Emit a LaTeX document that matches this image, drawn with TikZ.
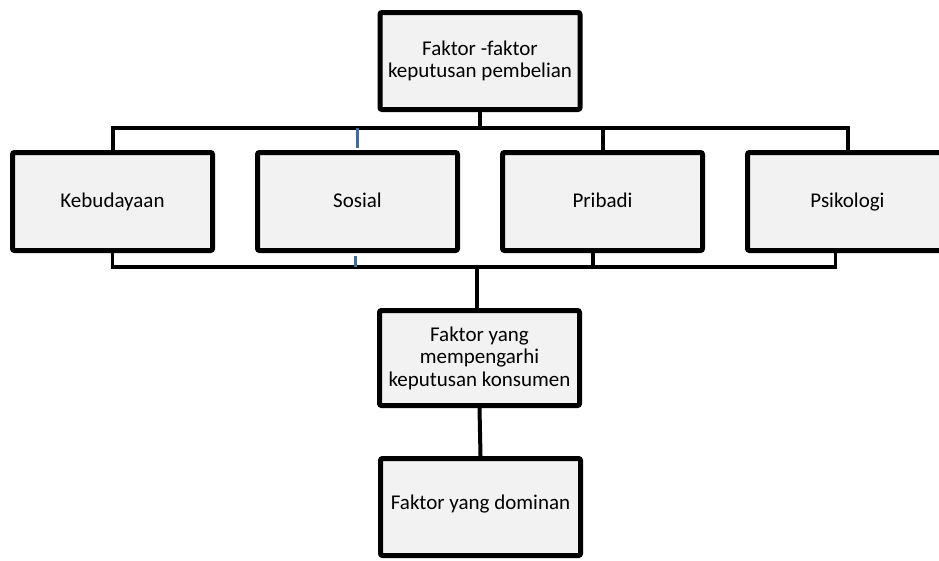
\documentclass[tikz,border=0pt]{standalone}
\usepackage{fontspec}
\setmainfont{Carlito}
\usetikzlibrary{positioning}
\definecolor{boxgray}{HTML}{F2F2F2}
\definecolor{linkblue}{HTML}{41699A}

\begin{document}
\begin{tikzpicture}[x=1pt, y=-1pt,
		box/.style={draw, line width=5pt, fill=boxgray, rounded corners=2pt,
			minimum width=200pt, minimum height=97pt, inner sep=2pt,
			align=center, font=\fontsize{21}{22.5}\selectfont},
		single/.style={box, minimum height=98pt, text height=15pt, text depth=4pt},
		link/.style={line width=4pt},
		thinlink/.style={line width=3pt, draw=linkblue, shorten <=2.5pt}
		]
	\clip (0,0) rectangle (939,560);
	\coordinate (topbar) at (0,128);
	\coordinate (lowbar) at (0,267);
	\node [box] (faktor) at (480,61) {Faktor -faktor\\keputusan pembelian};
	\node [single] (kebudayaan) at (112.5,201.5) {Kebudayaan};
	\node [single] (sosial) at (357.5,201.5) {Sosial};
	\node [single] (pribadi) at (602.5,201.5) {Pribadi};
	\node [single] (psikologi) at (847.5,201.5) {Psikologi};
	\node [box, minimum height=95pt] (pengaruh) at (479.5,358) {Faktor yang\\mempengarhi\\keputusan konsumen};
	\node [box, text height=12pt, text depth=7pt] (dominan) at (480.5,507) {Faktor yang dominan};
	% upper fork
	\draw [link] (faktor.south) -- (faktor.south |- topbar);
	\draw [link] (kebudayaan.north) -- (kebudayaan.north |- topbar) -- (psikologi.north |- topbar) -- (psikologi.north);
	\draw [link] (pribadi.north) -- (pribadi.north |- topbar);
	\draw [thinlink] (sosial.north) -- (sosial.north |- topbar);
	% lower fork
	\draw [link, line width=3.5pt] (kebudayaan.south) -- (kebudayaan.south |- lowbar) -- ([xshift=-12pt]psikologi.south |- lowbar) -- ([xshift=-12pt]psikologi.south);
	\draw [link] ([xshift=-10pt]pribadi.south) -- ([xshift=-10pt]pribadi.south |- lowbar);
	\draw [thinlink] ([xshift=-2pt]sosial.south) -- ([xshift=-2pt]sosial.south |- lowbar);
	\draw [link] ([xshift=-3pt]pengaruh.north) -- ([xshift=-3pt]pengaruh.north |- lowbar);
	\draw [link] (pengaruh.south) -- (dominan.north);
\end{tikzpicture}
\end{document}
